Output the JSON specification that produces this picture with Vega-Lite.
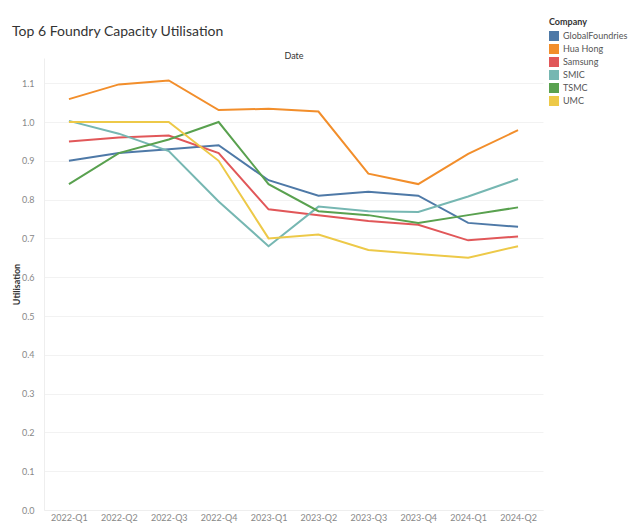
{
  "$schema": "https://vega.github.io/schema/vega-lite/v6.json",
  "autosize": {"type": "none"},
  "width": 499,
  "height": 452,
  "padding": {"left": 44, "top": 58, "right": 85, "bottom": 21},
  "title": {
    "text": "Top 6 Foundry Capacity Utilisation",
    "anchor": "start",
    "frame": "group",
    "dx": -32,
    "offset": -21,
    "font": "Lato",
    "fontSize": 14,
    "fontWeight": "normal",
    "color": "#333333"
  },
  "config": {
    "view": {"stroke": null},
    "font": "Lato"
  },
  "data": {
    "values": [
      {"Date": "2022-Q1", "Company": "GlobalFoundries", "Utilisation": 0.90},
      {"Date": "2022-Q2", "Company": "GlobalFoundries", "Utilisation": 0.92},
      {"Date": "2022-Q3", "Company": "GlobalFoundries", "Utilisation": 0.93},
      {"Date": "2022-Q4", "Company": "GlobalFoundries", "Utilisation": 0.94},
      {"Date": "2023-Q1", "Company": "GlobalFoundries", "Utilisation": 0.85},
      {"Date": "2023-Q2", "Company": "GlobalFoundries", "Utilisation": 0.81},
      {"Date": "2023-Q3", "Company": "GlobalFoundries", "Utilisation": 0.82},
      {"Date": "2023-Q4", "Company": "GlobalFoundries", "Utilisation": 0.81},
      {"Date": "2024-Q1", "Company": "GlobalFoundries", "Utilisation": 0.74},
      {"Date": "2024-Q2", "Company": "GlobalFoundries", "Utilisation": 0.73},
      {"Date": "2022-Q1", "Company": "Hua Hong", "Utilisation": 1.059},
      {"Date": "2022-Q2", "Company": "Hua Hong", "Utilisation": 1.097},
      {"Date": "2022-Q3", "Company": "Hua Hong", "Utilisation": 1.107},
      {"Date": "2022-Q4", "Company": "Hua Hong", "Utilisation": 1.031},
      {"Date": "2023-Q1", "Company": "Hua Hong", "Utilisation": 1.034},
      {"Date": "2023-Q2", "Company": "Hua Hong", "Utilisation": 1.027},
      {"Date": "2023-Q3", "Company": "Hua Hong", "Utilisation": 0.867},
      {"Date": "2023-Q4", "Company": "Hua Hong", "Utilisation": 0.840},
      {"Date": "2024-Q1", "Company": "Hua Hong", "Utilisation": 0.918},
      {"Date": "2024-Q2", "Company": "Hua Hong", "Utilisation": 0.979},
      {"Date": "2022-Q1", "Company": "Samsung", "Utilisation": 0.95},
      {"Date": "2022-Q2", "Company": "Samsung", "Utilisation": 0.96},
      {"Date": "2022-Q3", "Company": "Samsung", "Utilisation": 0.965},
      {"Date": "2022-Q4", "Company": "Samsung", "Utilisation": 0.92},
      {"Date": "2023-Q1", "Company": "Samsung", "Utilisation": 0.775},
      {"Date": "2023-Q2", "Company": "Samsung", "Utilisation": 0.76},
      {"Date": "2023-Q3", "Company": "Samsung", "Utilisation": 0.745},
      {"Date": "2023-Q4", "Company": "Samsung", "Utilisation": 0.735},
      {"Date": "2024-Q1", "Company": "Samsung", "Utilisation": 0.695},
      {"Date": "2024-Q2", "Company": "Samsung", "Utilisation": 0.705},
      {"Date": "2022-Q1", "Company": "SMIC", "Utilisation": 1.003},
      {"Date": "2022-Q2", "Company": "SMIC", "Utilisation": 0.97},
      {"Date": "2022-Q3", "Company": "SMIC", "Utilisation": 0.925},
      {"Date": "2022-Q4", "Company": "SMIC", "Utilisation": 0.795},
      {"Date": "2023-Q1", "Company": "SMIC", "Utilisation": 0.68},
      {"Date": "2023-Q2", "Company": "SMIC", "Utilisation": 0.782},
      {"Date": "2023-Q3", "Company": "SMIC", "Utilisation": 0.77},
      {"Date": "2023-Q4", "Company": "SMIC", "Utilisation": 0.768},
      {"Date": "2024-Q1", "Company": "SMIC", "Utilisation": 0.808},
      {"Date": "2024-Q2", "Company": "SMIC", "Utilisation": 0.853},
      {"Date": "2022-Q1", "Company": "TSMC", "Utilisation": 0.84},
      {"Date": "2022-Q2", "Company": "TSMC", "Utilisation": 0.92},
      {"Date": "2022-Q3", "Company": "TSMC", "Utilisation": 0.955},
      {"Date": "2022-Q4", "Company": "TSMC", "Utilisation": 1.0},
      {"Date": "2023-Q1", "Company": "TSMC", "Utilisation": 0.84},
      {"Date": "2023-Q2", "Company": "TSMC", "Utilisation": 0.77},
      {"Date": "2023-Q3", "Company": "TSMC", "Utilisation": 0.76},
      {"Date": "2023-Q4", "Company": "TSMC", "Utilisation": 0.74},
      {"Date": "2024-Q1", "Company": "TSMC", "Utilisation": 0.76},
      {"Date": "2024-Q2", "Company": "TSMC", "Utilisation": 0.78},
      {"Date": "2022-Q1", "Company": "UMC", "Utilisation": 1.0},
      {"Date": "2022-Q2", "Company": "UMC", "Utilisation": 1.0},
      {"Date": "2022-Q3", "Company": "UMC", "Utilisation": 1.0},
      {"Date": "2022-Q4", "Company": "UMC", "Utilisation": 0.9},
      {"Date": "2023-Q1", "Company": "UMC", "Utilisation": 0.70},
      {"Date": "2023-Q2", "Company": "UMC", "Utilisation": 0.71},
      {"Date": "2023-Q3", "Company": "UMC", "Utilisation": 0.67},
      {"Date": "2023-Q4", "Company": "UMC", "Utilisation": 0.66},
      {"Date": "2024-Q1", "Company": "UMC", "Utilisation": 0.65},
      {"Date": "2024-Q2", "Company": "UMC", "Utilisation": 0.68}
    ]
  },
  "mark": {"type": "line", "strokeWidth": 2},
  "encoding": {
    "x": {
      "field": "Date",
      "type": "ordinal",
      "scale": {"type": "point", "padding": 0.5},
      "axis": {
        "title": "Date",
        "titleY": -459,
        "titleFontSize": 9,
        "titleFontWeight": "normal",
        "titleColor": "#333333",
        "labelAngle": 0,
        "labelFontSize": 9,
        "labelColor": "#888888",
        "labelPadding": 3,
        "ticks": false,
        "domain": true,
        "domainColor": "#eeeeee",
        "grid": false
      }
    },
    "y": {
      "field": "Utilisation",
      "type": "quantitative",
      "scale": {"domain": [0, 1.165], "nice": false},
      "axis": {
        "title": "Utilisation",
        "titleFontSize": 9,
        "titleFontWeight": "bold",
        "titleColor": "#333333",
        "titleX": -23,
        "values": [0, 0.1, 0.2, 0.3, 0.4, 0.5, 0.6, 0.7, 0.8, 0.9, 1.0, 1.1],
        "format": ".1f",
        "labelFontSize": 9,
        "labelColor": "#888888",
        "labelPadding": 10,
        "ticks": false,
        "domain": true,
        "domainColor": "#eeeeee",
        "gridColor": "#f2f2f2"
      }
    },
    "color": {
      "field": "Company",
      "type": "nominal",
      "scale": {
        "domain": ["GlobalFoundries", "Hua Hong", "Samsung", "SMIC", "TSMC", "UMC"],
        "range": ["#4e79a7", "#f28e2b", "#e15759", "#76b7b2", "#59a14f", "#edc948"]
      },
      "legend": {
        "orient": "none",
        "legendX": 505,
        "legendY": -40,
        "title": "Company",
        "titleFontSize": 9,
        "titleFontWeight": "bold",
        "titleColor": "#333333",
        "titlePadding": 4,
        "labelFontSize": 9,
        "labelColor": "#555555",
        "labelLimit": 120,
        "symbolType": "square",
        "symbolSize": 100,
        "rowPadding": 3,
        "encode": {
          "symbols": {
            "update": {
              "fill": {"scale": "color", "field": "value"},
              "stroke": {"value": "transparent"},
              "strokeWidth": {"value": 0}
            }
          }
        }
      }
    }
  }
}
